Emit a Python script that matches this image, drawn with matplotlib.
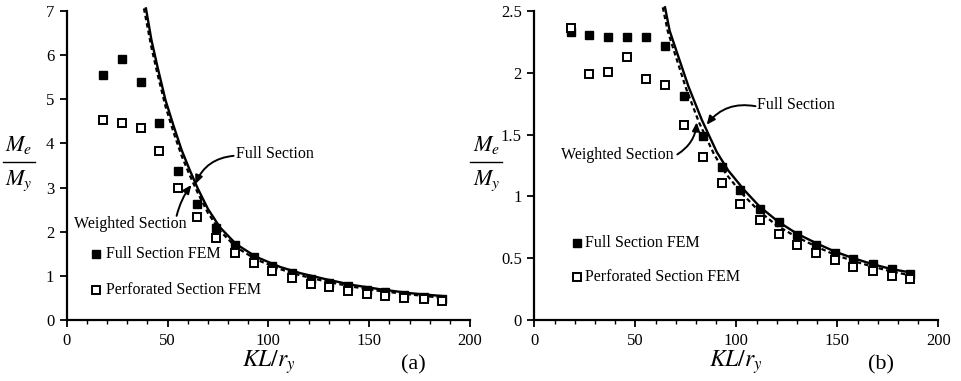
import matplotlib
matplotlib.use("Agg")
import matplotlib.pyplot as plt
from matplotlib.ticker import MultipleLocator
from matplotlib.lines import Line2D

plt.rcParams['font.family'] = ['Liberation Serif', 'DejaVu Serif']
plt.rcParams['mathtext.fontset'] = 'stix'

# ---------------- data: panel (a) ----------------
kl_fem = [18, 27.3, 36.7, 46, 55.4, 64.8, 74, 83.4, 93, 102, 111.5, 121, 130, 139.5, 149, 158, 167.5, 177, 186]
a_full_fem = [5.55, 5.91, 5.39, 4.47, 3.38, 2.63, 2.08, 1.71, 1.43, 1.23, 1.06, 0.94, 0.85, 0.77, 0.69, 0.63, 0.57, 0.53, 0.48]
a_perf_fem = [4.53, 4.47, 4.34, 3.84, 2.98, 2.33, 1.86, 1.53, 1.29, 1.10, 0.96, 0.82, 0.74, 0.66, 0.59, 0.54, 0.50, 0.47, 0.43]

a_full_x = [39.3, 42, 45, 49, 53, 57, 61, 65, 70, 76, 84, 94, 106, 116, 128, 141, 155, 170, 187]
a_full_y = [7.06, 6.35, 5.74, 4.98, 4.40, 3.85, 3.40, 2.98, 2.52, 2.10, 1.72, 1.43, 1.20, 1.06, 0.93, 0.80, 0.70, 0.61, 0.54]
a_wt_x = [38.3, 42, 45, 49, 53, 57, 61, 65, 70, 76, 84, 94, 106, 116, 128, 141, 155, 170, 187]
a_wt_y = [7.06, 6.18, 5.58, 4.84, 4.25, 3.72, 3.28, 2.88, 2.43, 2.02, 1.65, 1.37, 1.15, 1.01, 0.88, 0.76, 0.66, 0.58, 0.50]

# ---------------- data: panel (b) ----------------
b_full_fem = [2.33, 2.31, 2.29, 2.29, 2.29, 2.22, 1.81, 1.49, 1.24, 1.05, 0.90, 0.79, 0.69, 0.61, 0.54, 0.49, 0.45, 0.41, 0.37]
b_perf_fem = [2.36, 1.99, 2.01, 2.13, 1.95, 1.90, 1.58, 1.32, 1.11, 0.94, 0.81, 0.70, 0.61, 0.545, 0.485, 0.43, 0.40, 0.36, 0.33]

b_full_x = [64.7, 67, 70.5, 76.3, 82.9, 90.3, 96, 104, 111.6, 120.8, 129.9, 139.8, 148.9, 158, 167.8, 176.9, 186.8]
b_full_y = [2.53, 2.34, 2.17, 1.89, 1.62, 1.36, 1.21, 1.05, 0.917, 0.795, 0.70, 0.62, 0.553, 0.50, 0.45, 0.412, 0.383]
b_wt_x = [63.6, 66, 69.5, 75, 81.5, 89, 95, 103, 111, 120, 129.5, 139.5, 148.5, 158, 167.5, 177, 186.8]
b_wt_y = [2.53, 2.34, 2.16, 1.88, 1.60, 1.34, 1.18, 1.02, 0.885, 0.765, 0.675, 0.595, 0.53, 0.477, 0.432, 0.392, 0.36]

x_ticks = [0, 50, 100, 150, 200]
a_yticks = [0, 1, 2, 3, 4, 5, 6, 7]
b_yticks = [0, 0.5, 1, 1.5, 2, 2.5]
b_yticklabels = ['0', '0.5', '1', '1.5', '2', '2.5']

fig = plt.figure(figsize=(9.61, 3.81), dpi=100)
axA = fig.add_axes([0.0694, 0.160, 0.4197, 0.811])
axB = fig.add_axes([0.556, 0.160, 0.4204, 0.811])

TXT = 11.5
ARROW = dict(arrowstyle='-|>,head_length=0.5,head_width=0.22', lw=1.4, color='black', shrinkA=0, shrinkB=0)


def style(ax, ymax, yticks, ylabels, panel):
    ax.set_xlim(0, 200)
    ax.set_ylim(0, ymax)
    for s in ('top', 'right'):
        ax.spines[s].set_visible(False)
    for s in ('left', 'bottom'):
        ax.spines[s].set_linewidth(1.6)
    ax.set_xticks(x_ticks)
    ax.set_xticklabels([str(v) for v in x_ticks])
    ax.xaxis.set_minor_locator(MultipleLocator(10))
    ax.set_yticks(yticks)
    ax.set_yticklabels(ylabels)
    ax.tick_params(axis='both', which='major', direction='out', length=5, width=1.3, labelsize=12, pad=4)
    ax.tick_params(axis='x', which='minor', direction='out', length=3, width=1.0)
    ax.tick_params(axis='y', which='minor', length=0)
    ax.text(0.5, -0.136, r'$KL/r_y$', transform=ax.transAxes, ha='center', va='center', fontsize=17)
    ax.text(0.859, -0.146, panel, transform=ax.transAxes, ha='center', va='center', fontsize=16)
    # y label as a stacked fraction M_e / M_y
    ax.text(-0.118, 0.566, r'$M_e$', transform=ax.transAxes, ha='center', va='center', fontsize=16)
    ax.text(-0.118, 0.452, r'$M_y$', transform=ax.transAxes, ha='center', va='center', fontsize=16)
    ax.add_line(Line2D([-0.158, -0.079], [0.511, 0.511], transform=ax.transAxes, color='black',
                       lw=1.0, clip_on=False))


def fem(ax, full, perf, lx, ly1, ly2):
    ax.plot(kl_fem, full, ls='none', marker='s', ms=5.6, mfc='black', mec='black', clip_on=False, zorder=4)
    ax.plot(kl_fem, perf, ls='none', marker='s', ms=5.4, mfc='white', mec='black', mew=1.4, clip_on=False, zorder=5)
    ax.plot([lx], [ly1], ls='none', marker='s', ms=5.6, mfc='black', mec='black')
    ax.plot([lx], [ly2], ls='none', marker='s', ms=5.4, mfc='white', mec='black', mew=1.4)


# ---- panel (a)
axA.plot(a_full_x, a_full_y, color='black', lw=1.7, clip_on=False, zorder=3)
axA.plot(a_wt_x, a_wt_y, color='black', lw=1.6, ls=(0, (2.0, 1.4)), clip_on=False, zorder=3)
fem(axA, a_full_fem, a_perf_fem, 14.7, 1.5, 0.68)
style(axA, 7, a_yticks, [str(v) for v in a_yticks], '(a)')
axA.text(19.5, 1.5, 'Full Section FEM', fontsize=TXT, va='center', ha='left')
axA.text(19.5, 0.68, 'Perforated Section FEM', fontsize=TXT, va='center', ha='left')
axA.text(84, 3.77, 'Full Section', fontsize=TXT, va='center', ha='left')
axA.text(31.4, 2.17, 'Weighted Section', fontsize=TXT, va='center', ha='center')
axA.annotate('', xy=(63.8, 3.08), xytext=(82.8, 3.72),
             arrowprops=dict(ARROW, connectionstyle='arc3,rad=0.3'))
axA.annotate('', xy=(61.8, 3.06), xytext=(54.5, 2.36),
             arrowprops=dict(ARROW, connectionstyle='arc3,rad=-0.1'))

# ---- panel (b)
axB.plot(b_full_x, b_full_y, color='black', lw=1.7, clip_on=False, zorder=3)
axB.plot(b_wt_x, b_wt_y, color='black', lw=1.6, ls=(0, (2.0, 1.4)), clip_on=False, zorder=3)
fem(axB, b_full_fem, b_perf_fem, 21, 0.62, 0.345)
style(axB, 2.5, b_yticks, b_yticklabels, '(b)')
axB.text(25, 0.62, 'Full Section FEM', fontsize=TXT, va='center', ha='left')
axB.text(25, 0.345, 'Perforated Section FEM', fontsize=TXT, va='center', ha='left')
axB.text(110.4, 1.74, 'Full Section', fontsize=TXT, va='center', ha='left')
axB.text(68.8, 1.335, 'Weighted Section', fontsize=TXT, va='center', ha='right')
axB.annotate('', xy=(85.3, 1.58), xytext=(109.5, 1.73),
             arrowprops=dict(ARROW, connectionstyle='arc3,rad=0.3'))
axB.annotate('', xy=(80.4, 1.60), xytext=(70.8, 1.34),
             arrowprops=dict(ARROW, connectionstyle='arc3,rad=0.25'))

fig.savefig('out.png', dpi=100)
